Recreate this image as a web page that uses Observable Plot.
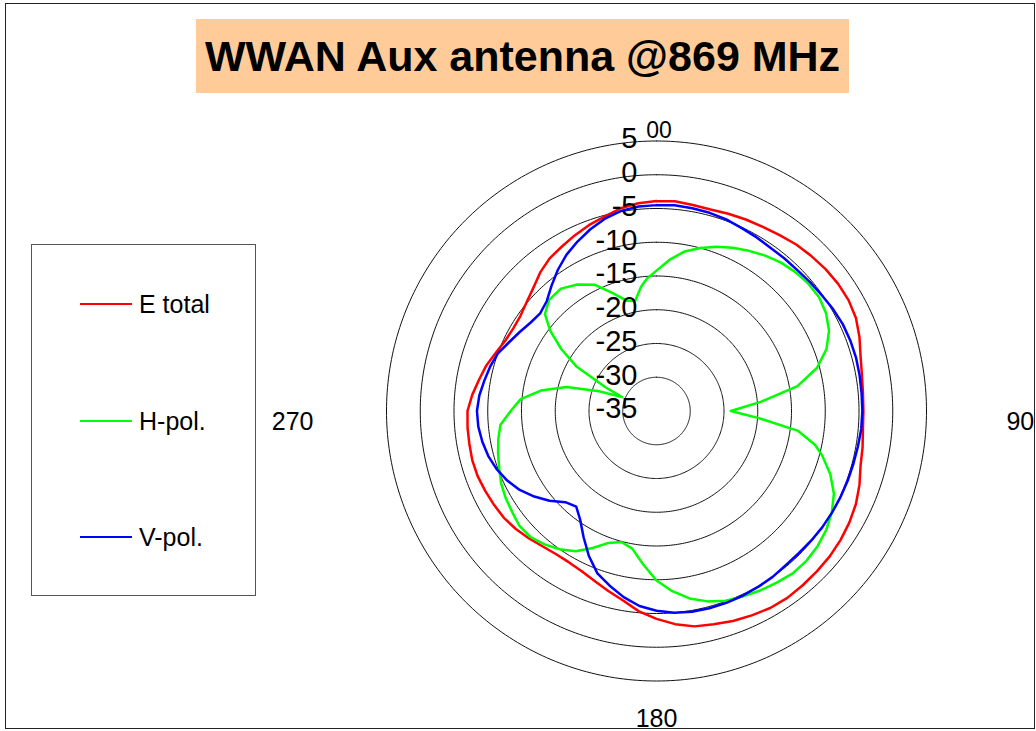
<!DOCTYPE html>
<html>
<head>
<meta charset="utf-8">
<script src="https://cdn.jsdelivr.net/npm/d3@7"></script>
<script src="https://cdn.jsdelivr.net/npm/@observablehq/plot@0.6"></script>
<style>
  html, body { margin: 0; padding: 0; background: #fff; overflow: hidden; }
  #wrap { position: relative; width: 1036px; height: 731px; overflow: hidden;
          font-family: "Liberation Sans", Arial, Helvetica, sans-serif; color: #000; }
  #chart { position: absolute; left: 0; top: 0; }
  #chart svg { background: transparent !important; overflow: hidden; }
  #frame { position: absolute; left: 5px; top: 3px; width: 1030px; height: 726px;
           border: 1px solid #222; box-sizing: border-box; pointer-events: none; }
  #title { position: absolute; left: 196px; top: 19px; width: 653px; height: 74px;
           background: #FFCC99; font-weight: bold; font-size: 43px; line-height: 74px;
           text-align: center; white-space: nowrap; }
  #legend { position: absolute; left: 31px; top: 244px; width: 225px; height: 352px;
            border: 1px solid #555; box-sizing: border-box; background: #fff; }
  .item { position: absolute; left: 0; height: 0; }
  .item .sw { position: absolute; left: 48px; width: 52px; height: 2px; top: -1px; }
  .item .lb { position: absolute; left: 107px; top: -15px; font-size: 25px; line-height: 30px; white-space: nowrap; }
</style>
</head>
<body>
<div id="wrap">
  <div id="chart"></div>
  <div id="frame"></div>
  <div id="title">WWAN Aux antenna @869 MHz</div>
  <div id="legend"></div>
</div>
<script>
// ---------------- data ----------------
const chartTitle = "WWAN Aux antenna @869 MHz";
const seriesNames = ["E total", "H-pol.", "V-pol."];
const seriesColors = ["#FF0000", "#00FF00", "#0000FF"];

// Ring (radial) ticks in dB, outer to inner; centre is -35 dB
const ringTicks = [5, 0, -5, -10, -15, -20, -25, -30];
const ringLabels = ["5", "0", "-5", "-10", "-15", "-20", "-25", "-30", "-35"];
const ringLabelValues = [5, 0, -5, -10, -15, -20, -25, -30, -35];
const radialMin = -35;

// Angle tick labels
const angleTicks = [0, 90, 180, 270];
const angleTickLabels = ["00", "90", "180", "270"];

// Shared angle grid (degrees, clockwise from top) for E total and V-pol.
const angles = [0,5,10,15,20,25,30,35,40,45,50,55,60,65,70,75,80,85,90,95,100,105,110,115,
  120,125,130,135,140,145,150,155,160,165,170,175,180,185,190,195,200,205,210,215,220,225,230,235,
  240,245,250,255,260,265,270,275,280,285,290,295,300,305,310,315,320,325,330,335,340,345,350,355];

const eTotal = [-3.9,-3.8,-4.0,-4.1,-3.9,-3.7,-3.5,-3.2,-2.8,-2.55,-2.3,-2.15,-2.15,-2.4,-3.0,-3.7,-4.1,-4.3,
  -4.35,-4.3,-4.0,-3.7,-3.0,-2.4,-2.0,-1.7,-1.5,-1.4,-1.3,-1.2,-1.3,-1.6,-1.9,-2.3,-2.6,-3.3,
  -4.2,-5.2,-6.5,-7.4,-8.2,-8.8,-9.1,-9.1,-8.8,-8.3,-7.8,-7.4,-7.2,-7.0,-6.8,-6.75,-6.85,-6.9,
  -7.0,-7.6,-8.3,-8.9,-9.7,-10.3,-10.5,-10.4,-9.9,-9.2,-8.2,-7.4,-6.9,-6.3,-5.7,-5.2,-4.5,-4.1];

const vPol = [-4.5,-4.4,-4.5,-4.6,-4.8,-5.1,-5.3,-5.5,-5.5,-5.5,-5.3,-5.1,-4.8,-4.55,-4.45,-4.4,-4.45,-4.5,
  -4.5,-4.55,-4.7,-4.8,-4.85,-4.9,-4.95,-5.0,-5.1,-5.2,-5.2,-5.0,-4.9,-4.8,-4.75,-4.75,-4.8,-5.0,
  -5.4,-6.0,-7.0,-8.2,-9.4,-11.3,-13.4,-15.3,-16.5,-15.9,-14.3,-12.9,-11.6,-10.6,-9.8,-9.2,-8.8,-8.5,
  -8.4,-8.65,-9.1,-9.5,-10.0,-10.9,-11.6,-12.2,-12.5,-12.0,-10.8,-9.5,-8.3,-7.3,-6.35,-5.5,-4.9,-4.6];

// H-pol. has sharp nulls, so it keeps its own angle list
const hAngles = [0,5,10,15,20,25,30,35,40,45,50,55,60,65,70,75,80,85,90,94,98,102,105,110,115,120,125,
  130,135,140,145,150,155,160,165,170,175,180,185,190,195,200,205,210,215,220,225,230,235,240,245,250,
  255,260,265,270,275,280,285,289,292,295,299,303,307,311,316,322,328,334,340,345,349,353,356];
const hPol = [-14.2,-12.5,-11.0,-10.0,-9.1,-8.3,-7.6,-6.9,-6.3,-5.9,-5.65,-5.6,-6.0,-6.8,-8.2,-10.4,-13.8,-19.5,
  -24.0,-19.8,-13.8,-11.0,-9.6,-7.6,-6.0,-5.0,-4.3,-3.85,-3.6,-3.6,-3.95,-4.3,-4.7,-5.1,-5.8,-6.8,-8.2,
  -9.9,-12.2,-14.3,-14.9,-14.2,-12.6,-11.0,-10.0,-9.2,-8.6,-8.5,-8.9,-9.2,-9.6,-10.2,-10.7,-11.2,-11.8,
  -13.4,-14.8,-17.6,-21.2,-26.0,-29.5,-26.6,-21.5,-18.2,-15.3,-13.1,-12.1,-12.0,-12.9,-14.2,-16.5,-18.1,-18.4,-16.4,-15.3];

// ---------------- layout (pixels / styles) ----------------
const W = 1036, H = 731;
const cx = 656, cy = 410.5, pxPerUnit = 6.75;   // centre of the polar grid and px per dB
const outerR = ringTicks[0] - radialMin;         // 40 units
const angleLabelLayout = {               // radius (units) and pixel offsets for angle labels
  0:   {r: 41.5, dx: 2.5, dy: 0,  size: 23},
  90:  {r: 53.9, dx: 0,   dy: 11, size: 25},
  180: {r: 45.7, dx: 0,   dy: 0,  size: 25},
  270: {r: 53.9, dx: 0,   dy: 11, size: 25}
};
const legendRowY = [59, 176, 292];      // px inside legend box

// ---------------- helpers ----------------
const rad = d => d * Math.PI / 180;
const polar = (deg, db) => {
  const r = db - radialMin;
  return {x: r * Math.sin(rad(deg)), y: r * Math.cos(rad(deg))};
};

function seriesRows(name, angs, vals) {
  const rows = angs.map((a, i) => ({series: name, ...polar(a, vals[i])}));
  rows.push({...rows[0]});
  return rows;
}
const curveRows = [
  ...seriesRows(seriesNames[0], angles, eTotal),
  ...seriesRows(seriesNames[1], hAngles, hPol),
  ...seriesRows(seriesNames[2], angles, vPol)
];

const ringRows = ringTicks.flatMap(t => d3.range(0, 361, 1).map(a => ({ring: t, ...polar(a, t)})));

const ringLabelRows = ringLabelValues.map((v, i) => ({label: ringLabels[i], ...polar(0, v)}));

const angleLabelRows = angleTicks.map((a, i) => {
  const L = angleLabelLayout[a];
  return {
    label: angleTickLabels[i],
    x: L.r * Math.sin(rad(a)) + L.dx / pxPerUnit,
    y: L.r * Math.cos(rad(a)) - L.dy / pxPerUnit,
    size: L.size
  };
});

const font = "Liberation Sans, Arial, Helvetica, sans-serif";

const plot = Plot.plot({
  width: W,
  height: H,
  margin: 0,
  style: {background: "transparent", fontFamily: font, overflow: "hidden"},
  x: {domain: [-outerR, outerR], range: [cx - outerR * pxPerUnit, cx + outerR * pxPerUnit], axis: null},
  y: {domain: [-outerR, outerR], range: [cy + outerR * pxPerUnit, cy - outerR * pxPerUnit], axis: null},
  color: {domain: seriesNames, range: seriesColors},
  marks: [
    Plot.line(ringRows, {x: "x", y: "y", z: "ring", stroke: "#111", strokeWidth: 1}),
    Plot.line(curveRows, {x: "x", y: "y", z: "series", stroke: "series", strokeWidth: 2.5, curve: "linear"}),
    Plot.text(ringLabelRows, {x: "x", y: "y", text: "label", textAnchor: "end", dx: -19, dy: -2,
      fontSize: 29, fill: "#000", fontFamily: font, lineAnchor: "middle"}),
    Plot.text(angleLabelRows.filter(d => d.size === 23), {x: "x", y: "y", text: "label", textAnchor: "middle",
      fontSize: 23, fill: "#000", fontFamily: font, lineAnchor: "middle"}),
    Plot.text(angleLabelRows.filter(d => d.size === 25), {x: "x", y: "y", text: "label", textAnchor: "middle",
      fontSize: 25, fill: "#000", fontFamily: font, lineAnchor: "middle"})
  ]
});
document.getElementById("chart").appendChild(plot);
document.getElementById("title").textContent = chartTitle;

// legend
const legend = document.getElementById("legend");
seriesNames.forEach((name, i) => {
  const item = document.createElement("div");
  item.className = "item";
  item.style.top = legendRowY[i] + "px";
  const sw = document.createElement("div");
  sw.className = "sw";
  sw.style.background = seriesColors[i];
  const lb = document.createElement("div");
  lb.className = "lb";
  lb.textContent = name;
  item.appendChild(sw);
  item.appendChild(lb);
  legend.appendChild(item);
});
</script>
</body>
</html>
